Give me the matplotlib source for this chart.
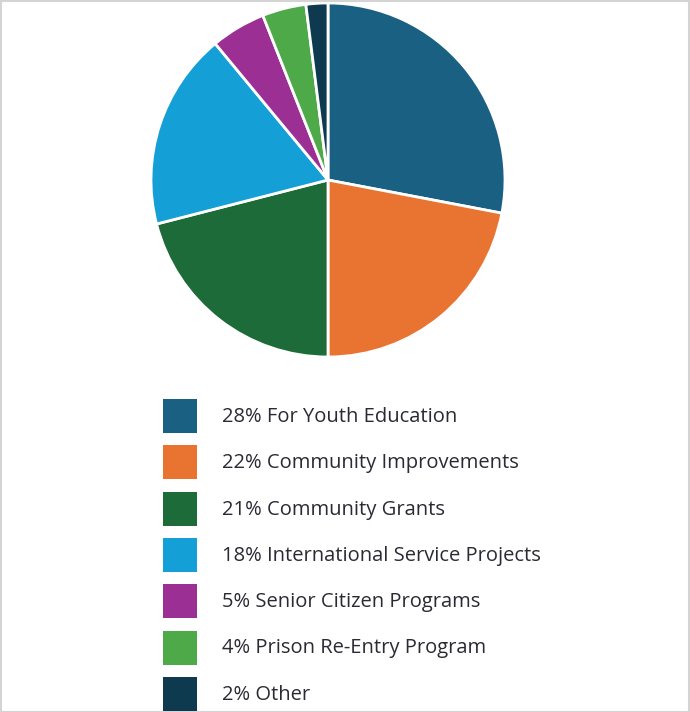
import matplotlib
matplotlib.use("Agg")
import matplotlib.pyplot as plt
from matplotlib.patches import Rectangle

labels = ["For Youth Education", "Community Improvements", "Community Grants",
          "International Service Projects", "Senior Citizen Programs",
          "Prison Re-Entry Program", "Other"]
values = [28, 22, 21, 18, 5, 4, 2]
colors = ["#1a6082", "#e97432", "#1d6b38", "#149fd6", "#9b2f94", "#4ea949", "#0d3a4f"]

W, H = 690, 712
fig = plt.figure(figsize=(W / 100, H / 100), dpi=100)
fig.patch.set_facecolor("white")
fig.patches.append(Rectangle((0.5 / W, 0.5 / H), 1 - 1.5 / W, 1 - 1.5 / H,
                             transform=fig.transFigure, fill=False,
                             edgecolor="#d4d4d4", linewidth=1.5))

cx, cy, r = 328, 180, 177
ax = fig.add_axes([(cx - r) / W, 1 - (cy + r) / H, 2 * r / W, 2 * r / H])
ax.pie(values, colors=colors, startangle=90, counterclock=False,
       wedgeprops=dict(edgecolor="white", linewidth=2))
ax.set_xlim(-1.0, 1.0)
ax.set_ylim(-1.0, 1.0)
ax.set_aspect("equal")
ax.axis("off")

y0, dy = 416, 46.3
sq = 34
for i, (lab, v, c) in enumerate(zip(labels, values, colors)):
    yc = y0 + i * dy
    fig.patches.append(Rectangle((163 / W, 1 - (yc + sq / 2) / H), sq / W, sq / H,
                                 transform=fig.transFigure, facecolor=c,
                                 edgecolor="none"))
    fig.text(222 / W, 1 - (yc + 1) / H, f"{v}% {lab}", fontsize=14.5,
             family="Open Sans", color="#2a2a35", va="center", ha="left")

fig.savefig("out.png", dpi=100)
